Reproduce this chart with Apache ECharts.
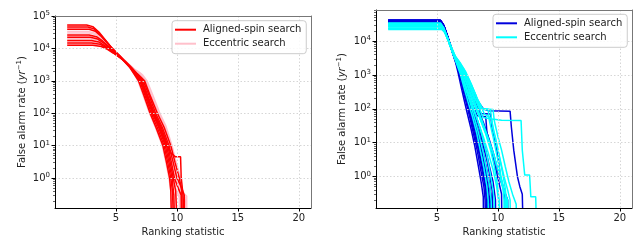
<!DOCTYPE html>
<html><head><meta charset="utf-8">
<script src="https://cdn.jsdelivr.net/npm/echarts@6/dist/echarts.min.js"></script>
<style>html,body{margin:0;padding:0;background:#fff}#c{width:643px;height:250px}</style>
</head><body><div id="c"></div>
<script>
// ---- tick labels / names ----
const xTickValues = [5, 10, 15, 20];
const yMajorTicks = [1, 10, 100, 1000, 10000, 100000];
const yMinorMultipliers = [2, 3, 4, 5, 6, 7, 8, 9];
const legendNames = ['Aligned-spin search', 'Eccentric search'];
const xName = 'Ranking statistic';
const yName = 'False alarm rate ({it|yr}{s|−1})';

// ---- left panel: aligned-spin (red) curves ----
const leftAligned = [
 [[1,53000],[2.6,53000],[3.1,47000],[3.6,32000],[4.1,19000],[4.6,11000],[5.1,7000],[5.6,4300],[6.1,2700],[6.45,1700],[6.85,1000],[7.3,350],[7.8,100],[8.3,35],[8.85,10],[9.15,3],[9.4,1],[9.5,0.4],[9.55,0.05]],
 [[1,46000],[2.7,46000],[3.2,40000],[3.7,27000],[4.2,16500],[4.7,10000],[5.2,6400],[5.7,4000],[6.2,2500],[6.55,1600],[6.95,1000],[7.4,340],[7.9,100],[8.4,36],[8.95,10],[9.25,3],[9.5,1],[9.65,0.35],[9.7,0.05]],
 [[1,39000],[2.8,39000],[3.3,34000],[3.8,23500],[4.3,14500],[4.8,9000],[5.3,6000],[5.8,3800],[6.3,2400],[6.6,1600],[7,1000],[7.5,330],[8,100],[8.5,37],[9.05,10],[9.35,3],[9.6,1],[9.75,0.3],[9.8,0.05]],
 [[1,26000],[2.8,26000],[3.4,23000],[3.9,17000],[4.4,11500],[4.9,7800],[5.4,5300],[5.9,3500],[6.4,2200],[6.7,1550],[7.1,1000],[7.6,320],[8.1,100],[8.6,40],[9.1,12],[9.5,6],[9.85,4.6],[10.3,4.6],[10.35,1.1],[10.45,1.1],[10.5,0.3],[10.6,0.3],[10.62,0.05]],
 [[1,22000],[2.9,22000],[3.5,19500],[4,14500],[4.5,10000],[5,7000],[5.5,4900],[6,3200],[6.45,2100],[6.7,1550],[7.05,1000],[7.55,330],[8.05,100],[8.55,38],[9.15,10],[9.45,3],[9.7,1],[9.9,0.4],[10,0.05]],
 [[1,17500],[3,17500],[3.6,15800],[4.1,12000],[4.6,8600],[5.1,6200],[5.6,4400],[6.1,2900],[6.5,2000],[6.8,1500],[7.15,1000],[7.65,320],[8.15,100],[8.7,38],[9.25,10],[9.55,3],[9.8,1],[10.1,0.5],[10.35,0.3],[10.37,0.05]],
 [[1,14800],[3,14800],[3.7,13500],[4.2,10500],[4.7,7800],[5.2,5700],[5.7,4100],[6.2,2700],[6.6,1850],[6.9,1400],[7.25,1000],[7.75,330],[8.25,100],[8.8,37],[9.35,10],[9.7,3],[10,1],[10.3,0.6],[10.6,0.3],[10.64,0.05]],
 [[1,12500],[3.1,12500],[3.8,11500],[4.3,9300],[4.8,7100],[5.3,5300],[5.8,3800],[6.3,2500],[6.7,1750],[7,1350],[7.35,1000],[7.85,320],[8.4,100],[8.95,37],[9.5,10],[9.85,3],[10.2,1],[10.4,0.4],[10.45,0.05]]
];
// ---- left panel: eccentric (pink) curves ----
const leftEccentric = [
 [[1,50000],[2.6,50000],[3.1,45000],[3.6,31000],[4.1,18500],[4.6,10800],[5.1,6800],[5.6,4200],[6.1,2700],[6.45,1750],[6.8,1000],[7.25,340],[7.75,100],[8.25,36],[8.8,10],[9.1,3],[9.35,1],[9.5,0.4],[9.6,0.05]],
 [[1,43000],[2.7,43000],[3.2,38000],[3.7,26000],[4.2,16000],[4.7,9800],[5.2,6300],[5.7,4000],[6.2,2600],[6.6,1900],[6.9,1500],[7.15,1000],[7.65,330],[8.15,100],[8.65,40],[9.15,10],[9.45,3],[9.75,1],[9.9,0.4],[10,0.05]],
 [[1,33000],[2.8,33000],[3.3,29500],[3.8,21000],[4.3,13500],[4.8,8600],[5.3,5800],[5.8,3800],[6.3,2500],[6.7,1950],[7,1600],[7.35,1000],[7.85,340],[8.35,100],[8.85,40],[9.35,10],[9.7,3],[10,1],[10.15,0.5],[10.3,0.2],[10.32,0.05]],
 [[1,30000],[2.8,30000],[3.4,26500],[3.9,19000],[4.4,12500],[4.9,8200],[5.4,5500],[5.9,3600],[6.4,2400],[6.8,1900],[7.1,1550],[7.45,1000],[7.95,330],[8.5,100],[9,40],[9.5,10],[9.85,3],[10.2,1],[10.5,0.4],[10.7,0.25],[10.85,0.25],[10.87,0.05]],
 [[1,24000],[2.9,24000],[3.5,21500],[4,16000],[4.5,11000],[5,7500],[5.5,5100],[6,3400],[6.45,2300],[6.8,1750],[7.05,1400],[7.3,1000],[7.8,330],[8.3,100],[8.8,40],[9.35,10],[9.7,3],[10.05,1],[10.3,0.45],[10.5,0.2],[10.52,0.05]],
 [[1,20000],[2.9,20000],[3.6,18000],[4.1,13500],[4.6,9500],[5.1,6700],[5.6,4700],[6.1,3100],[6.5,2300],[6.9,1850],[7.2,1500],[7.55,1000],[8.05,340],[8.6,100],[9.1,40],[9.6,10],[9.95,3],[10.3,1],[10.5,0.35],[10.8,0.28],[10.82,0.05]],
 [[1,16000],[3,16000],[3.7,14500],[4.2,11300],[4.7,8300],[5.2,6000],[5.7,4300],[6.2,2850],[6.6,2000],[6.8,1500],[7,1000],[7.5,330],[8,100],[8.5,38],[9.05,10],[9.4,3],[9.65,1],[9.9,0.5],[10.2,0.25],[10.22,0.05]],
 [[1,13500],[3.1,13500],[3.8,12300],[4.3,9800],[4.8,7400],[5.3,5500],[5.8,3900],[6.3,2600],[6.7,1850],[6.95,1450],[7.2,1000],[7.7,330],[8.2,100],[8.7,40],[9.25,10],[9.55,3],[9.85,1],[10.1,0.5],[10.4,0.2],[10.42,0.05]]
];
// ---- right panel: aligned-spin (blue) curves ----
const rightAligned = [
 [[1,41000],[5.25,41000],[5.5,30000],[5.75,17000],[6,9000],[6.3,4200],[6.55,2200],[6.75,1100],[7,420],[7.25,170],[7.5,70],[7.8,25],[8.1,8],[8.4,2],[8.65,0.6],[8.8,0.25],[8.82,0.05]],
 [[1,40000],[5.3,40000],[5.55,29000],[5.8,16000],[6.05,8500],[6.35,4000],[6.6,2100],[6.85,1000],[7.1,400],[7.4,150],[7.7,55],[8,18],[8.3,6],[8.6,1.5],[8.85,0.5],[8.95,0.2],[8.97,0.05]],
 [[1,39000],[5.3,39000],[5.55,28000],[5.8,15500],[6.05,8200],[6.35,3900],[6.6,2100],[6.9,980],[7.2,380],[7.5,140],[7.8,50],[8.1,17],[8.4,6],[8.7,1.6],[8.95,0.5],[9.05,0.2],[9.07,0.05]],
 [[1,38000],[5.35,38000],[5.6,27000],[5.85,15000],[6.1,8000],[6.4,3700],[6.65,2050],[6.95,950],[7.3,330],[7.6,120],[7.9,45],[8.2,16],[8.5,5],[8.8,1.3],[9.05,0.4],[9.15,0.2],[9.17,0.05]],
 [[1,37000],[5.35,37000],[5.6,26000],[5.85,14500],[6.1,7800],[6.4,3600],[6.7,2000],[7,900],[7.35,310],[7.7,110],[8,40],[8.35,13],[8.65,4],[8.95,1.1],[9.15,0.4],[9.25,0.15],[9.27,0.05]],
 [[1,36000],[5.35,36000],[5.6,25500],[5.85,14000],[6.1,7600],[6.4,3500],[6.7,2000],[7.05,880],[7.4,300],[7.8,100],[8.15,35],[8.5,11],[8.8,3.5],[9.05,1],[9.25,0.35],[9.35,0.15],[9.37,0.05]],
 [[1,42000],[5.25,42000],[5.5,31000],[5.75,17500],[6,9200],[6.3,4300],[6.6,2300],[6.9,1150],[7.2,480],[7.6,170],[8,60],[8.35,22],[8.65,7],[8.95,2.5],[9.2,0.9],[9.4,0.3],[9.45,0.05]],
 [[1,41000],[5.3,41000],[5.55,30000],[5.8,16500],[6.05,8800],[6.35,4100],[6.6,2200],[6.95,1050],[7.3,420],[7.7,150],[8.1,65],[8.5,25],[8.8,8],[9.1,3],[9.35,1],[9.55,0.35],[9.6,0.05]],
 [[1,39500],[5.3,39500],[5.55,28500],[5.8,15800],[6.05,8300],[6.35,3900],[6.65,2150],[7,1000],[7.35,420],[7.8,140],[8.2,60],[8.6,22],[9,6],[9.3,2],[9.6,0.7],[9.8,0.2],[9.82,0.05]],
 [[1,38500],[5.3,38500],[5.55,27500],[5.8,15200],[6.05,8000],[6.4,3700],[6.7,2050],[7.05,1000],[7.4,450],[7.8,170],[8.3,62],[9,58],[9.1,20],[9.4,8],[9.7,2.5],[10,0.9],[10.3,0.3],[10.32,0.05]],
 [[1,37500],[5.35,37500],[5.6,26500],[5.85,14700],[6.1,7700],[6.45,3500],[6.75,2000],[7.1,1000],[7.5,460],[8,200],[8.6,72],[9.4,70],[9.5,30],[9.8,10],[10,4],[10.2,1],[10.5,0.4],[10.6,0.2],[10.62,0.05]],
 [[1,36500],[5.35,36500],[5.6,25800],[5.85,14200],[6.1,7500],[6.45,3400],[6.75,1950],[7.15,950],[7.6,420],[8,170],[8.4,90],[8.8,40],[9.3,12],[9.7,4],[10.1,1],[10.5,0.4],[10.8,0.2],[10.82,0.05]],
 [[1,40500],[5.3,40500],[5.55,29500],[5.8,16200],[6.05,8600],[6.35,4000],[6.7,2200],[7.1,1100],[7.6,520],[8.2,200],[8.8,100],[9.2,88],[11,85],[11.1,30],[11.3,6],[11.6,1],[11.8,0.5],[12,0.3],[12.05,0.05]],
 [[1,38000],[5.3,38000],[5.55,27000],[5.8,15000],[6.05,8000],[6.4,3700],[6.7,2000],[7.05,940],[7.4,380],[7.75,140],[8.1,52],[8.45,19],[8.75,6],[9.05,1.8],[9.3,0.6],[9.5,0.2],[9.52,0.05]]
];
// ---- right panel: eccentric (cyan) curves ----
const rightEccentric = [
 [[1,34000],[5.3,34000],[5.55,25000],[5.8,14500],[6.05,8000],[6.35,3900],[6.6,2200],[6.9,1100],[7.2,450],[7.55,160],[7.9,60],[8.25,20],[8.55,6],[8.85,1.8],[9.1,0.5],[9.2,0.2],[9.22,0.05]],
 [[1,32000],[5.3,32000],[5.55,24000],[5.8,14000],[6.05,7900],[6.35,3900],[6.65,2200],[7,1050],[7.35,400],[7.75,140],[8.1,50],[8.45,17],[8.8,5],[9.1,1.4],[9.35,0.45],[9.45,0.18],[9.47,0.05]],
 [[1,30000],[5.3,30000],[5.55,23000],[5.8,13500],[6.05,7700],[6.4,3700],[6.7,2150],[7.05,1050],[7.45,400],[7.9,140],[8.3,50],[8.7,16],[9.05,5],[9.35,1.4],[9.6,0.4],[9.7,0.17],[9.72,0.05]],
 [[1,28000],[5.35,28000],[5.6,21500],[5.85,13000],[6.1,7500],[6.4,3800],[6.75,2200],[7.1,1100],[7.55,420],[8,150],[8.5,55],[9,18],[9.4,6],[9.7,2],[9.95,0.6],[10.1,0.2],[10.12,0.05]],
 [[1,26000],[5.35,26000],[5.6,20500],[5.85,12500],[6.1,7300],[6.45,3700],[6.8,2250],[7.2,1150],[7.7,480],[8.2,180],[8.6,100],[9.2,98],[9.3,45],[9.6,15],[9.9,4.5],[10.2,1.3],[10.4,0.5],[10.5,0.2],[10.52,0.05]],
 [[1,24000],[5.35,24000],[5.6,19000],[5.85,12000],[6.1,7100],[6.45,3600],[6.85,2250],[7.3,1100],[7.8,400],[8.3,140],[8.8,55],[9.5,50],[9.6,25],[9.9,9],[10.2,3],[10.5,1],[10.8,0.4],[11,0.2],[11.02,0.05]],
 [[1,22000],[5.4,22000],[5.65,18000],[5.9,11500],[6.15,7000],[6.5,3600],[6.9,2300],[7.35,1250],[7.85,500],[8.3,200],[8.8,95],[9.4,92],[9.5,40],[9.8,14],[10.1,4],[10.4,1.2],[10.6,0.45],[10.7,0.2],[10.72,0.05]],
 [[1,33000],[5.3,33000],[5.55,24500],[5.8,14200],[6.05,8000],[6.3,4500],[6.7,2600],[7.2,1500],[7.7,650],[8.2,250],[8.5,100],[9.6,95],[9.7,45],[10,15],[10.3,6],[10.6,2],[10.9,0.7],[11.2,0.3],[11.5,0.15],[11.52,0.05]],
 [[1,29000],[5.3,29000],[5.55,22500],[5.8,13300],[6.05,7800],[6.35,4200],[6.7,2500],[7.2,1400],[7.7,600],[8.3,200],[8.9,70],[9.5,50],[10.3,46],[11.9,45],[12,6],[12.2,1.1],[12.6,1.1],[12.7,0.25],[13.1,0.25],[13.15,0.05]],
 [[1,27000],[5.35,27000],[5.6,21000],[5.85,12800],[6.1,7400],[6.4,3900],[6.75,2300],[7.15,1150],[7.6,420],[8.05,150],[8.5,55],[9,19],[9.5,6],[9.9,2.2],[10.3,0.8],[10.6,0.3],[10.62,0.05]],
 [[1,23000],[5.4,23000],[5.65,18500],[5.9,11800],[6.15,7000],[6.5,3600],[6.9,2200],[7.3,1000],[7.75,380],[8.2,130],[8.7,45],[9.2,14],[9.7,4],[10.1,1.2],[10.4,0.45],[10.8,0.2],[10.82,0.05]],
 [[1,31000],[5.3,31000],[5.55,23500],[5.8,13800],[6.05,7900],[6.35,3900],[6.65,2150],[7,1000],[7.4,380],[7.85,130],[8.3,48],[8.8,15],[9.2,5],[9.6,1.6],[9.9,0.5],[10.05,0.2],[10.07,0.05]]
];

// ---- styling & layout ----
const FONT = 'DejaVu Sans';
const TXT = '#222';
const colors = { leftA: '#ff0000', leftE: '#ffc0cb', rightA: '#0000dd', rightE: '#00ffff' };
const minorTicks = [];
[0.1, 1, 10, 100, 1000, 10000].forEach(d => yMinorMultipliers.forEach(m => minorTicks.push(m * d)));

const grids = [
  { left: 55, top: 16, width: 256, height: 192, ymin: 0.12, ymax: 100000 },
  { left: 376, top: 10, width: 256, height: 198, ymin: 0.117, ymax: 83000 }
];

const gridOpts = grids.map(g => ({ left: g.left, top: g.top, width: g.width, height: g.height }));

const splitStyle = { show: true, lineStyle: { color: '#d6d6d6', width: 1, type: [1.5, 2] } };
const frameLine = { show: true, onZero: false, lineStyle: { color: '#777', width: 1 } };

const xAxes = grids.map((g, i) => ({
  type: 'value', gridIndex: i, min: 0, max: 21, interval: 5, z: 5,
  axisLine: { onZero: false, lineStyle: { color: '#000', width: 1 } },
  axisTick: { show: true, length: 3.5, customValues: xTickValues, lineStyle: { color: '#000' } },
  axisLabel: { customValues: xTickValues, fontSize: 10, color: TXT, fontFamily: FONT, margin: 5 },
  splitLine: splitStyle,
  name: xName, nameLocation: 'middle', nameGap: 18,
  nameTextStyle: { fontSize: 10, color: TXT, fontFamily: FONT }
}));
grids.forEach((g, i) => xAxes.push({
  type: 'value', gridIndex: i, min: 0, max: 21, position: 'top', z: 8,
  axisLine: frameLine, axisTick: { show: false }, axisLabel: { show: false }, splitLine: { show: false }
}));

const yAxes = [];
grids.forEach((g, i) => {
  yAxes.push({
    type: 'log', logBase: 10, gridIndex: i, min: g.ymin, max: g.ymax, z: 5,
    axisLine: { show: true, onZero: false, lineStyle: { color: '#000', width: 1 } },
    axisTick: { show: true, length: 3.5, customValues: yMajorTicks.filter(v => v <= g.ymax), lineStyle: { color: '#000' } },
    axisLabel: {
      customValues: yMajorTicks.filter(v => v <= g.ymax), margin: 5,
      formatter: v => '{b|10}{s|' + Math.round(Math.log10(v)) + '}',
      rich: {
        b: { fontSize: 10, lineHeight: 12, color: TXT, fontFamily: FONT },
        s: { fontSize: 7, lineHeight: 7, verticalAlign: 'top', color: TXT, fontFamily: FONT }
      }
    },
    splitLine: splitStyle,
    name: yName, nameLocation: 'middle', nameGap: i === 0 ? 27 : 28, nameRotate: 90,
    nameTextStyle: { fontSize: 10, color: TXT, fontFamily: FONT, lineHeight: 12,
      rich: { it: { fontSize: 10, fontStyle: 'italic', color: TXT, fontFamily: FONT, lineHeight: 12 },
              s: { fontSize: 7, lineHeight: 7, verticalAlign: 'top', color: TXT, fontFamily: FONT } } }
  });
  yAxes.push({
    type: 'log', logBase: 10, gridIndex: i, min: g.ymin, max: g.ymax, position: 'left', z: 5,
    axisLine: { show: false }, axisLabel: { show: false }, splitLine: { show: false },
    axisTick: { show: true, length: 2, customValues: minorTicks.filter(v => v > g.ymin && v < g.ymax), lineStyle: { color: '#000', width: 0.6 } }
  });
  yAxes.push({
    type: 'log', logBase: 10, gridIndex: i, min: g.ymin, max: g.ymax, position: 'right', z: 8,
    axisLine: frameLine, axisLabel: { show: false }, splitLine: { show: false }, axisTick: { show: false }
  });
});

function mk(curves, name, color, gi, z) {
  return curves.map(d => ({
    type: 'line', name: name, data: d, xAxisIndex: gi, yAxisIndex: gi * 3,
    symbol: 'none', showSymbol: false, silent: true, animation: false, clip: true, z: z,
    lineStyle: { color: color, width: 1.5 }, itemStyle: { color: color }
  }));
}
const rn = n => n + ' ';
const series = [].concat(
  mk(leftEccentric, legendNames[1], colors.leftE, 0, 2),
  mk(leftAligned, legendNames[0], colors.leftA, 0, 3),
  mk(rightAligned, rn(legendNames[0]), colors.rightA, 1, 2),
  mk(rightEccentric, rn(legendNames[1]), colors.rightE, 1, 3)
);

function legend(left, top, names) {
  return {
    orient: 'vertical', left: left, top: top, icon: 'rect', itemWidth: 21, itemHeight: 2, itemGap: 0,
    padding: [2, 5, 3, 3], borderColor: '#ccc', borderWidth: 1, borderRadius: 3,
    backgroundColor: 'rgba(255,255,255,0.85)', selectedMode: false, z: 10,
    data: names, formatter: n => n.trim(),
    textStyle: { fontSize: 10, color: TXT, fontFamily: FONT, lineHeight: 14, padding: [0, 0, 0, 2] }
  };
}

const chart = echarts.init(document.getElementById('c'), null, { renderer: 'canvas' });
chart.setOption({
  animation: false,
  backgroundColor: '#fff',
  textStyle: { fontFamily: FONT },
  grid: gridOpts,
  xAxis: xAxes,
  yAxis: yAxes,
  legend: [
    legend(172, 20.7, legendNames),
    legend(493, 14.3, legendNames.map(rn))
  ],
  series: series
});
</script></body></html>
